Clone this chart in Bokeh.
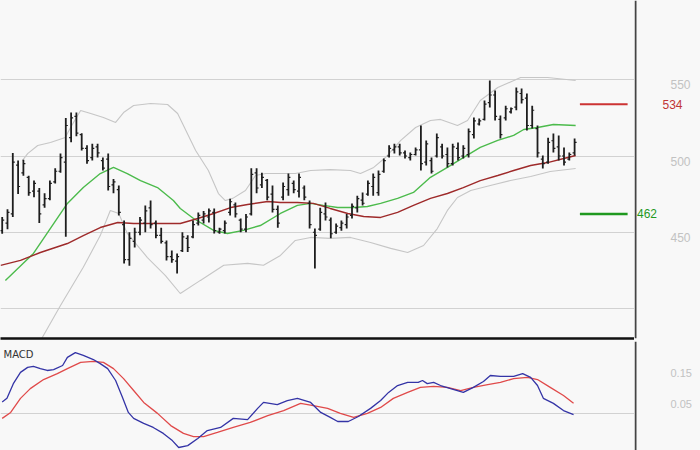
import numpy as np
from bokeh.plotting import figure
from bokeh.layouts import column, row
from bokeh.models import Range1d, LinearAxis, FixedTicker, Grid, Label, Span
from bokeh.core.properties import value
from bokeh.embed import file_html
from bokeh.resources import INLINE

# ---------------- data ----------------
high = [460, 465, 502, 497, 497.5, 487, 484, 479, 475.5, 484, 492, 501.6, 525, 528.5, 528.5, 515,
        507, 508, 508, 499, 501.6, 485, 480.7, 457.7, 450, 453, 460, 467.6, 470.8, 457.7, 453, 444.5,
        438, 436, 450, 448, 457.7, 463, 464, 465.6, 465.6, 453, 457.7, 472, 469.5, 459, 462, 492,
        492, 489, 485, 480.7, 467.6, 482.6, 488.5, 484, 488.5, 480.7, 470.8, 452.4, 466, 469.5, 459.7,
        455.7, 457.7, 462, 468.8, 474, 476, 484, 488.5, 490.5, 498.4, 507, 508, 508, 503.6, 502.3,
        505.6, 520, 510.2, 499, 514.8, 508, 505.6, 508, 508.9, 507, 518, 525.3, 524.6, 536.4, 549.5,
        543, 526.6, 533, 531.8, 545, 544.3, 541, 533, 520, 500.3, 512, 514.8, 513.5, 505.6, 502.3, 511.5]
low = [449, 452, 460, 475, 487, 474, 473, 456, 466, 471, 482, 489, 447, 509, 513, 503.6,
       495, 497, 499, 490.5, 477.4, 475.5, 461, 429.5, 428, 440, 448, 450, 452.4, 446, 442.6, 431.4,
       430, 423, 437, 437, 446, 454.4, 455.7, 456.4, 449.2, 449, 449.2, 461, 459.7, 450, 450, 461,
       475.5, 479, 471, 463, 453, 471, 474, 475.5, 472.8, 471, 452.4, 426.2, 451, 457.7, 446,
       449, 451, 452.4, 459, 463, 467.6, 474, 474, 474, 489, 499, 501.6, 500.3, 498.4, 497,
       500.3, 490.5, 493.8, 488.5, 499, 498.4, 492.5, 493.8, 497, 498.4, 499, 511.5, 520, 523.3, 531.8,
       523.3, 511.5, 523.3, 527.9, 530, 534.4, 516.7, 518, 499, 491.8, 495, 502.3, 497, 493.8, 497, 500.3]
opens = [451, 456, 462, 494, 489, 486, 477, 477, 468, 472, 483, 490, 496, 512, 526, 514,
         505, 499, 506, 497, 498, 481, 478, 455, 432, 444, 450, 456, 466, 456, 448, 443,
         434, 431, 438, 446, 447, 456, 458, 460, 463, 450, 451, 463, 468, 458, 452, 462,
         489, 481, 484, 475, 465, 473, 478, 482, 477, 479, 469, 450, 452, 462, 458,
         450, 453, 455, 461, 466, 471, 475, 480, 476, 490, 500, 504, 506, 502, 499,
         501, 504, 496, 497, 500, 506, 501, 495, 505, 500, 501, 514, 521, 524, 535,
         540, 524, 525, 529, 532, 541, 538, 520, 518, 498, 496, 510, 506, 500, 498, 502]
closes = [458, 463, 496, 480, 495, 476, 482, 462, 472, 482, 490, 499, 520, 525, 515, 505,
          497, 505, 502, 492, 480, 483, 463, 432, 446, 450, 458, 464, 455, 448, 444, 434,
          432, 434, 447, 440, 455, 461, 462, 464, 451, 452, 456, 470, 462, 452, 460, 488,
          479, 486, 473, 465, 456, 480, 486, 478, 486, 473, 455, 448, 463, 460, 449,
          454, 456, 460, 467, 472, 469, 482, 486, 488, 497, 505, 506, 502, 500, 501,
          504, 495, 508, 490, 512, 500, 495, 506, 499, 505, 516, 523, 523, 534, 540,
          526, 514, 531, 531, 542, 537, 520, 530, 502, 495, 509, 505, 500, 496, 501, 509]

# moving averages / bands, read at bar positions
ma_green_x = [0.6, 5.9, 12.3, 15.3, 18.5, 21.0, 23.6, 26.1, 29.3, 32.3, 33.6, 36.1, 39.9, 42.5, 45.5,
              48.7, 52.5, 55.7, 58.2, 60.6, 63.3, 66.3, 68.9, 71.4, 74.6, 77.6, 80.8, 84.0, 87.0, 90.2,
              93.5, 96.5, 98.4, 101.0, 104.0, 108.2]
ma_green_y = [418.4, 436.1, 468.9, 479.3, 488.5, 492.5, 488.5, 483.9, 479.3, 470.8, 465.6, 459.0, 451.2,
              449.2, 451.2, 454.4, 462.3, 467.6, 468.9, 467.6, 466.2, 466.2, 466.9, 468.9, 472.2, 476.1,
              486.0, 492.5, 499.0, 505.6, 510.2, 513.5, 517.4, 518.7, 520.7, 520.0]
ma_red_x = [-0.3, 3.45, 7.2, 12.3, 15.3, 18.5, 21.8, 24.8, 28.0, 33.6, 36.9, 39.9, 43.1, 46.3, 50.1,
            52.5, 55.7, 58.7, 61.9, 65.2, 68.2, 71.4, 74.6, 77.6, 80.8, 84.0, 87.0, 90.2, 93.5, 96.5,
            99.7, 102.9, 106.7, 108.2]
ma_red_y = [428.3, 431.5, 436.7, 442.6, 447.8, 453.1, 456.4, 455.7, 455.7, 455.7, 459.0, 462.3, 466.2,
            468.2, 470.2, 469.5, 469.5, 468.9, 465.6, 462.3, 460.3, 459.7, 463.0, 467.6, 472.2, 475.4,
            479.3, 483.9, 487.2, 490.5, 493.8, 495.7, 499.0, 500.3]
band_up_x = [3.8, 4.8, 6.7, 9.1, 11.9, 12.9, 14.8, 16.7, 19.1, 21.4, 22.9, 24.8, 28.0, 31.2, 33.1,
             36.5, 38.9, 40.8, 42.1, 43.5, 45.9, 47.8, 49.7, 52.1, 55.3, 58.2, 61.9, 65.7, 67.6, 70.1,
             72.3, 75.2, 78.0, 80.8, 82.7, 85.9, 87.8, 90.2, 93.5, 97.8, 102.9, 108.2]
band_up_y = [497.0, 501.6, 506.9, 508.9, 512.2, 518.7, 529.9, 527.9, 525.3, 522.0, 528.5, 533.1, 534.4,
             533.8, 527.9, 503.6, 490.5, 475.4, 470.8, 472.2, 477.4, 487.2, 488.5, 488.5, 488.5, 490.5,
             491.1, 490.5, 488.5, 492.5, 499.0, 510.2, 518.7, 523.3, 524.0, 520.0, 523.3, 536.4, 544.9,
             551.5, 551.5, 549.5]
band_lo_x = [7.2, 11.0, 15.3, 18.5, 20.4, 22.0, 23.6, 27.4, 30.8, 33.6, 37.4, 41.8, 46.3, 49.3, 52.5,
             55.3, 58.2, 61.9, 65.7, 69.5, 73.3, 76.5, 79.5, 82.1, 84.0, 85.9, 88.4, 92.1, 95.9, 99.7,
             103.4, 108.2]
band_lo_y = [378.7, 402.0, 427.0, 447.8, 464.3, 462.3, 449.2, 433.4, 421.6, 409.8, 418.4, 428.3, 429.6,
             428.3, 434.8, 444.6, 446.6, 446.0, 446.6, 443.3, 439.4, 436.7, 441.3, 452.4, 464.3, 472.8,
             477.4, 480.7, 483.9, 486.6, 489.8, 491.8]

# levels
level_resist = 534
level_support = 462

# MACD panel
macd_x = [0.0, 0.9, 2.1, 3.45, 4.8, 5.9, 7.2, 8.5, 9.7, 11.4, 12.3, 13.8, 15.3, 17.2, 18.5, 19.9, 21.4,
          22.7, 23.8, 24.8, 26.7, 28.5, 30.4, 32.1, 33.3, 35.0, 36.9, 38.7, 41.2, 43.6, 46.3, 48.2,
          49.3, 51.9, 53.8, 55.7, 58.2, 60.1, 61.9, 63.3, 65.3, 67.2, 69.5, 71.4, 72.9, 74.6, 76.5,
          78.5, 79.3, 80.2, 81.4, 82.7, 84.6, 87.0, 88.9, 90.8, 92.1, 94.0, 96.5, 98.2, 99.7, 101.0,
          102.1, 104.0, 105.9, 107.8]
macd_y = [0.038, 0.050, 0.097, 0.133, 0.149, 0.152, 0.145, 0.139, 0.142, 0.155, 0.181, 0.196, 0.187,
          0.174, 0.161, 0.145, 0.107, 0.053, 0.005, -0.014, -0.030, -0.043, -0.062, -0.085, -0.107,
          -0.101, -0.078, -0.053, -0.043, -0.014, -0.018, 0.018, 0.037, 0.030, 0.043, 0.050, 0.037,
          0.005, -0.011, -0.024, -0.024, -0.008, 0.018, 0.043, 0.069, 0.091, 0.101, 0.101, 0.107,
          0.097, 0.101, 0.091, 0.081, 0.069, 0.085, 0.104, 0.123, 0.120, 0.120, 0.129, 0.117, 0.091,
          0.050, 0.034, 0.011, -0.002]
signal_x = [0.0, 1.6, 3.45, 5.3, 7.8, 10.4, 12.3, 14.8, 17.2, 19.1, 21.0, 22.9, 24.8, 26.7, 29.3, 31.8,
            34.2, 36.1, 38.0, 40.6, 43.6, 46.8, 50.1, 53.1, 56.3, 58.7, 61.4, 63.8, 66.3, 68.9, 71.4,
            73.8, 76.5, 78.9, 81.4, 84.0, 86.5, 88.9, 91.6, 94.0, 96.5, 99.1, 101.0, 103.4, 105.9, 107.8]
signal_y = [-0.014, 0.005, 0.050, 0.081, 0.110, 0.129, 0.145, 0.165, 0.168, 0.165, 0.145, 0.113, 0.075,
            0.037, 0.002, -0.037, -0.062, -0.072, -0.072, -0.059, -0.043, -0.027, -0.005, 0.011, 0.034,
            0.027, 0.018, 0.002, -0.011, 0.002, 0.021, 0.050, 0.069, 0.085, 0.088, 0.085, 0.075, 0.085,
            0.094, 0.101, 0.113, 0.117, 0.110, 0.085, 0.059, 0.034]

price_ticks = [450, 500, 550]
price_grid = [400, 450, 500, 550]
macd_ticks = [0.05, 0.15]
macd_tick_labels = ["0.15" if t == 0.15 else "0.05" for t in macd_ticks]
macd_grid = [0]

# ---------------- styling ----------------
BG = "#f8f8f8"
GRID = "#d2d2d2"
TICK_LABEL = "#c2c2c2"
SEP = "#444444"
FONT = value("Liberation Sans")
n = len(high)
idx = np.arange(n)

FW = 634          # chart frame width
SW = 66           # right label strip width
PH = 338          # price frame height
MH = 109          # macd frame height

x_range = Range1d(-0.32, 119.3)
price_range = Range1d(380.3, 602.0)
macd_range = Range1d(-0.1166, 0.2316)
strip_range = Range1d(0, SW)


def base_fig(fw, fh, xr, yr, bottom):
    f = figure(frame_width=fw, frame_height=fh, x_range=xr, y_range=yr,
               x_axis_type=None, y_axis_type=None, toolbar_location=None, output_backend="svg",
               min_border_left=0, min_border_right=0, min_border_top=0, min_border_bottom=bottom,
               background_fill_color=BG, border_fill_color=BG, outline_line_color=None)
    f.grid.visible = False
    return f


def black_rule(f):
    ax = LinearAxis(ticker=FixedTicker(ticks=[]), axis_line_color="#111111", axis_line_width=2.5,
                    major_tick_line_color=None, minor_tick_line_color=None, major_tick_out=0,
                    major_tick_in=0, major_label_standoff=0, major_label_text_font_size="0px")
    f.add_layout(ax, "below")


# ---- price panel ----
p = base_fig(FW, PH, x_range, price_range, 3)
p.add_layout(Grid(dimension=1, ticker=FixedTicker(ticks=price_grid), grid_line_color=GRID, grid_line_width=1))
black_rule(p)

p.line(band_up_x, band_up_y, line_color="#c6c6c6", line_width=1.1)
p.line(band_lo_x, band_lo_y, line_color="#c6c6c6", line_width=1.1)
p.line(ma_green_x, ma_green_y, line_color="#4cbb4c", line_width=1.4)
p.line(ma_red_x, ma_red_y, line_color="#9e2a2a", line_width=1.4)

p.segment(x0=idx, y0=low, x1=idx, y1=high, line_color="#1e1e1e", line_width=1.8)
p.segment(x0=idx - 0.38, y0=opens, x1=idx, y1=opens, line_color="#1e1e1e", line_width=1.2)
p.segment(x0=idx, y0=closes, x1=idx + 0.38, y1=closes, line_color="#1e1e1e", line_width=1.2)

p.segment(x0=[n], y0=[level_resist], x1=[n + 9], y1=[level_resist], line_color="#cc3333", line_width=2)
p.segment(x0=[n], y0=[level_support], x1=[n + 9], y1=[level_support], line_color="#1f991f", line_width=2.5)

# ---- price label strip ----
ps = base_fig(SW, PH, strip_range, price_range, 3)
ps.add_layout(Span(location=1, dimension="height", line_color=SEP, line_width=2))
ps.text(x=[36] * len(price_ticks), y=price_ticks, text=[str(t) for t in price_ticks],
        text_color=TICK_LABEL, text_font=FONT, text_font_size="12px",
        text_baseline="middle", text_align="left", y_offset=5)
ps.text(x=[28], y=[level_resist], text=[str(level_resist)], text_color="#c03535", text_font=FONT,
        text_font_size="12px", text_baseline="middle", text_align="left")
ps.text(x=[2.5], y=[level_support], text=[str(level_support)], text_color="#1f991f", text_font=FONT,
        text_font_size="12px", text_baseline="middle", text_align="left")

# ---- MACD panel ----
q = base_fig(FW, MH, x_range, macd_range, 0)
q.add_layout(Grid(dimension=1, ticker=FixedTicker(ticks=macd_grid), grid_line_color=GRID, grid_line_width=1))
q.line(signal_x, signal_y, line_color="#e04a4a", line_width=1.3)
q.line(macd_x, macd_y, line_color="#3434a6", line_width=1.3)
q.add_layout(Label(x=x_range.start, y=macd_range.end, text="MACD", x_offset=3, y_offset=-7,
                   text_baseline="top", text_color="#333333", text_font="DejaVu Sans",
                   text_font_size="10px"))

qs = base_fig(SW, MH, strip_range, macd_range, 0)
qs.add_layout(Span(location=1, dimension="height", line_color=SEP, line_width=2))
qs.text(x=[36] * len(macd_ticks), y=macd_ticks, text=macd_tick_labels,
        text_color=TICK_LABEL, text_font=FONT, text_font_size="11px",
        text_baseline="middle", text_align="left", y_offset=6)

layout = column(row(p, ps, spacing=0), row(q, qs, spacing=0), spacing=0)
html = file_html(layout, INLINE, "MACD chart")
html = html.replace("<head>", "<head><style>body{background:#f8f8f8;}</style>", 1)
open("out.html", "w").write(html)
